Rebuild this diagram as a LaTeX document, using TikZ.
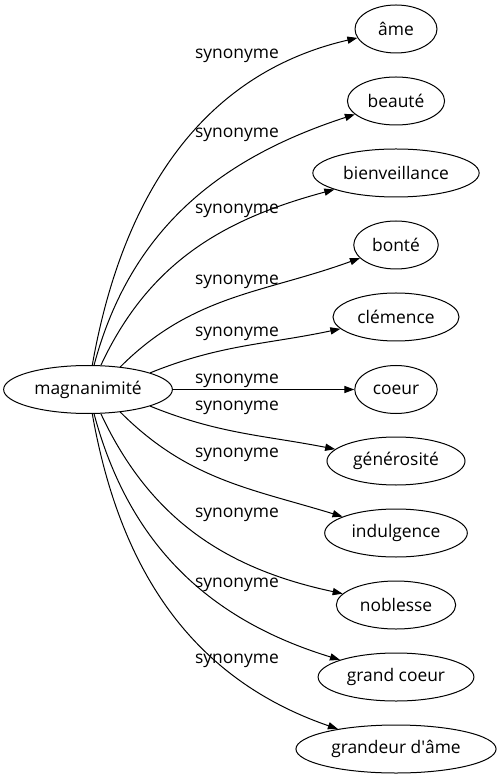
\documentclass[tikz,border=0pt]{standalone}
\usepackage{fontspec}
\setmainfont{Open Sans}
\usetikzlibrary{arrows.meta, shapes.geometric}
\tikzset{
  word/.style={ellipse, draw, line width=0.5pt, minimum height=24pt, minimum width=41pt,
    inner xsep=3pt, inner ysep=0pt, font=\fontsize{8.7}{10}\selectfont},
  rel/.style={inner sep=0pt, font=\fontsize{8.7}{10}\selectfont},
  syn/.style={-{Triangle[length=5pt,width=3.6pt]}, line width=0.5pt},
}
\begin{document}
\begin{tikzpicture}[x=0.5pt, y=-0.5pt]
\fill[white] (0,0) rectangle (503,779);
\node[word] (m) at (88,389.5) {magnanimité};
% target words: index/word/y/anchor/out/in/label y
\foreach \i/\w/\y/\a/\o/\n/\ly in {
  1/âme/29/80/80/193/56,
  2/beauté/101/76/75/198/135,
  3/bienveillance/173/62/65/195/211,
  4/bonté/245/35/45/200/282,
  5/clémence/317/15/22/192/334,
  6/coeur/389.5/0/0/180/381,
  7/générosité/461/-15/-22/169/408,
  8/indulgence/533/-35/-45/163/455,
  9/noblesse/605/-62/-65/168/515,
  10/grand coeur/677/-76/-75/163/585,
  11/grandeur d\textquotesingle{}âme/749/-80/-80/161/661} {
  \node[word] (s\i) at (396,\y) {\w};
  \draw[syn] (m.\a) to[out=\o, in=\n] (s\i);
  \node[rel] (l\i) at (237,\ly) {synonyme};
}
\end{tikzpicture}
\end{document}
